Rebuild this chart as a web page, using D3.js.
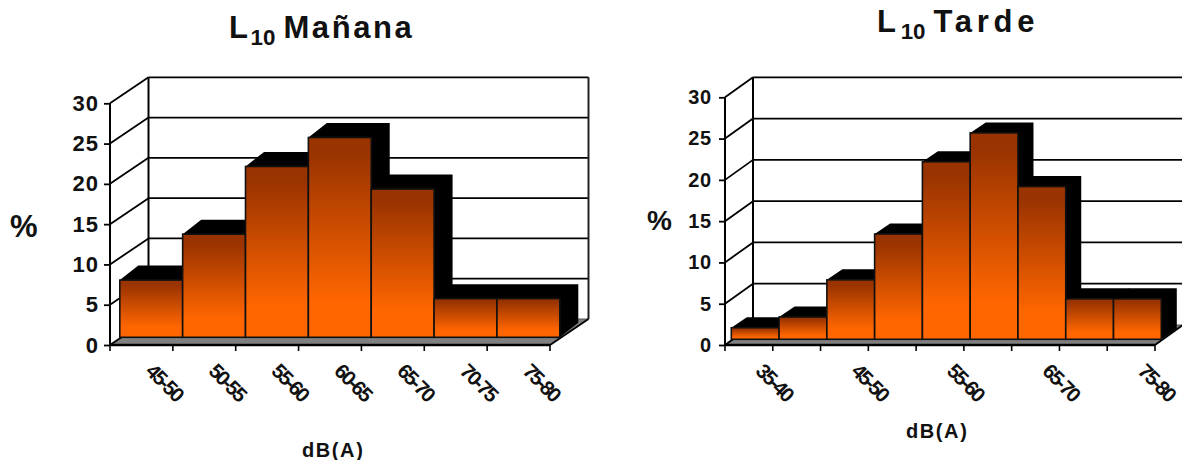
<!DOCTYPE html>
<html>
<head>
<meta charset="utf-8">
<script src="https://cdnjs.cloudflare.com/ajax/libs/d3/7.8.5/d3.min.js"></script>
<style>
html,body{margin:0;padding:0;background:#fff}
svg{display:block}
text{font-family:"Liberation Sans",Arial,sans-serif;font-weight:bold;fill:#111}
</style>
</head>
<body>
<svg id="chart" width="1182" height="460"></svg>
<script>
// Noise level distributions (L10), percentage of readings per dB(A) band
const morningBands = ["45-50","50-55","55-60","60-65","65-70","70-75","75-80"];
const morningValues = [7.1,12.8,21.2,24.8,18.4,4.8,4.8];
const afternoonBands = ["35-40","40-45","45-50","50-55","55-60","60-65","65-70","70-75","75-80"];
const afternoonValues = [1.4,2.7,7.2,12.75,21.5,25,18.5,4.9,4.9];
const afternoonLabels = ["35-40","45-50","55-60","65-70","75-80"];
const yTicks = [0,5,10,15,20,25,30];

const svg = d3.select("#chart");
const defs = svg.append("defs");
const grad = defs.append("linearGradient").attr("id","barFill")
  .attr("x1",0).attr("y1",0).attr("x2",0).attr("y2",1);
[[0.08,"#993300"],[0.82,"#ff6600"]].forEach(([o,c]) =>
  grad.append("stop").attr("offset",o).attr("stop-color",c));

function drawPanel(cfg){
  const g = svg.append("g");
  const x = d3.scaleBand().domain(cfg.bands).range([cfg.left,cfg.right]);
  const y = d3.scaleLinear().domain([0,30]).range([cfg.base,cfg.top]);
  const D = cfg.depth, B = cfg.barDepth, O = cfg.barOffset;

  // floor
  g.append("path")
    .attr("d",`M${cfg.left},${cfg.base}L${cfg.right},${cfg.base}L${cfg.right+D.x},${cfg.base+D.y}L${cfg.left+D.x},${cfg.base+D.y}Z`)
    .attr("fill","#808080");

  // back wall gridlines and border
  g.selectAll(".grid").data(yTicks.filter(t=>t>0)).join("line")
    .attr("x1",cfg.left+D.x).attr("x2",cfg.right+D.x)
    .attr("y1",t=>y(t)+D.y).attr("y2",t=>y(t)+D.y)
    .attr("stroke","#000").attr("stroke-width",1.8);
  g.append("line").attr("x1",cfg.left+D.x).attr("x2",cfg.left+D.x)
    .attr("y1",y(30)+D.y).attr("y2",y(0)+D.y).attr("stroke","#000").attr("stroke-width",2);
  g.append("line").attr("x1",cfg.right+D.x).attr("x2",cfg.right+D.x)
    .attr("y1",y(30)+D.y).attr("y2",y(0)+D.y).attr("stroke","#222").attr("stroke-width",2);
  g.append("line").attr("x1",cfg.left+D.x).attr("x2",cfg.right+D.x)
    .attr("y1",y(0)+D.y).attr("y2",y(0)+D.y).attr("stroke","#555").attr("stroke-width",1.2);

  // side wall diagonals
  g.selectAll(".diag").data(yTicks).join("line")
    .attr("x1",cfg.left).attr("y1",t=>y(t))
    .attr("x2",cfg.left+D.x).attr("y2",t=>y(t)+D.y)
    .attr("stroke","#000").attr("stroke-width",1.8);
  g.append("line")
    .attr("x1",cfg.right).attr("y1",cfg.base)
    .attr("x2",cfg.right+D.x).attr("y2",cfg.base+D.y)
    .attr("stroke","#000").attr("stroke-width",1.8);

  const rows = cfg.bands.map((b,i)=>({band:b,value:cfg.values[i]}));
  const fx = d => x(d.band)+O.x;
  const fy = d => y(d.value)+O.y;
  const w = x.bandwidth();
  const floorY = y(0)+O.y;

  // tops and right sides in black behind every front face
  g.selectAll(".side").data(rows).join("path")
    .attr("d",d=>{
      const l=fx(d), r=l+w, t=fy(d);
      return `M${l},${t}L${l+B.x},${t+B.y}L${r+B.x},${t+B.y}L${r+B.x},${floorY+B.y}L${r},${floorY}L${r},${t}Z`;
    })
    .attr("fill","#000");

  // front faces
  g.selectAll(".front").data(rows).join("rect")
    .attr("x",fx).attr("y",fy)
    .attr("width",w).attr("height",d=>floorY-fy(d))
    .attr("fill","url(#barFill)")
    .attr("stroke","#111").attr("stroke-width",1.6);

  // value axis
  const yAxis = d3.axisLeft(y).tickValues(yTicks).tickSize(cfg.tickLen).tickPadding(cfg.yPad);
  const ya = g.append("g").attr("transform",`translate(${cfg.left},0)`).call(yAxis);
  ya.select(".domain").attr("stroke","#000").attr("stroke-width",2).attr("d",`M0,${cfg.top}V${cfg.base}`);
  ya.selectAll(".tick line").attr("stroke","#000").attr("stroke-width",1.8);
  ya.selectAll("text").attr("fill","#111").style("font-size",cfg.yFont+"px")
    .style("letter-spacing",cfg.ySpacing+"px")
    .style("font-family",'"Liberation Sans",Arial,sans-serif').style("font-weight","bold");

  // category axis: ticks sit on band edges, labels are slanted
  const xAxis = d3.axisBottom(x).tickSize(0)
    .tickFormat(b => cfg.labels.includes(b) ? b : "");
  const xa = g.append("g").attr("transform",`translate(0,${cfg.base})`).call(xAxis);
  xa.select(".domain").attr("stroke","#000").attr("stroke-width",2.4).attr("d",`M${cfg.left},0H${cfg.right}`);
  xa.selectAll("text")
    .attr("y",null).attr("dy",null)
    .attr("text-anchor","middle").attr("dominant-baseline","central")
    .attr("transform",`translate(${cfg.labelDx},${cfg.labelDy}) rotate(45)`)
    .attr("fill","#111")
    .style("font-size",cfg.xFont+"px").style("letter-spacing",cfg.xSpacing+"px")
    .style("font-family",'"Liberation Sans",Arial,sans-serif').style("font-weight","bold");
  g.selectAll(".edge").data(cfg.bands).join("line")
    .attr("x1",b=>x(b)+w).attr("x2",b=>x(b)+w)
    .attr("y1",cfg.base).attr("y2",cfg.base+cfg.tickLen)
    .attr("stroke","#000").attr("stroke-width",1.6);
  g.append("line").attr("x1",cfg.left).attr("x2",cfg.left)
    .attr("y1",cfg.base).attr("y2",cfg.base+cfg.tickLen)
    .attr("stroke","#000").attr("stroke-width",1.6);

  // title with subscripted 10
  const title = g.append("text").attr("x",cfg.title.x).attr("y",cfg.title.y)
    .style("font-size",cfg.title.size+"px").style("letter-spacing",cfg.title.spacing+"px");
  title.append("tspan").text("L");
  title.append("tspan").attr("dy",7).style("font-size",cfg.title.size*0.72+"px")
    .style("letter-spacing","0px").text("10");
  title.append("tspan").attr("dy",-7).attr("dx",8).text(cfg.title.text);

  g.append("text").attr("x",cfg.pct.x).attr("y",cfg.pct.y)
    .style("font-size",cfg.pct.size+"px").text("%");
  g.append("text").attr("x",cfg.unit.x).attr("y",cfg.unit.y)
    .style("font-size",cfg.unit.size+"px").style("letter-spacing",cfg.unit.spacing+"px").text("dB(A)");
}

drawPanel({
  bands:morningBands, values:morningValues, labels:morningBands,
  left:110, right:550, top:103.3, base:345,
  depth:{x:38.5,y:-26}, barDepth:{x:18.5,y:-14.5}, barOffset:{x:9.8,y:-7.7},
  tickLen:6, yPad:5, yFont:22, ySpacing:1, xFont:20.5, xSpacing:-2, labelDx:23.4, labelDy:37,
  title:{x:229,y:38,size:31,spacing:2.6,text:"Mañana"},
  pct:{x:10,y:237,size:31}, unit:{x:302,y:457,size:20,spacing:1.6}
});

drawPanel({
  bands:afternoonBands, values:afternoonValues, labels:afternoonLabels,
  left:725, right:1155, top:97.3, base:345,
  depth:{x:28,y:-20}, barDepth:{x:15.5,y:-10.5}, barOffset:{x:6.3,y:-5.7},
  tickLen:6, yPad:7, yFont:20, ySpacing:0.8, xFont:20.5, xSpacing:-2, labelDx:26, labelDy:37,
  title:{x:877,y:32,size:31,spacing:4.7,text:"Tarde"},
  pct:{x:647,y:230,size:28}, unit:{x:906,y:438,size:20,spacing:1.6}
});
</script>
</body>
</html>
